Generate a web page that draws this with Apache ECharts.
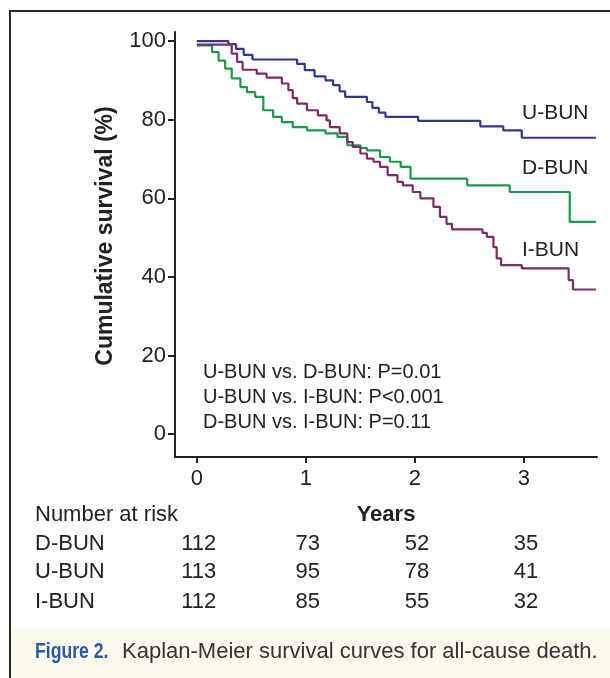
<!DOCTYPE html>
<html>
<head>
<meta charset="utf-8">
<script src="https://cdn.jsdelivr.net/npm/echarts@6/dist/echarts.min.js"></script>
<style>
html,body{margin:0;padding:0;background:#ffffff;}
#main{width:610px;height:678px;}
</style>
</head>
<body>
<div id="main"></div>
<script>
// ---- data ----
const xTicks = [0, 1, 2, 3];
const yTicks = [0, 20, 40, 60, 80, 100];
const groupNames = ['U-BUN', 'D-BUN', 'I-BUN'];
const uBun = [[0,100],[0.29,99.2],[0.36,98],[0.43,96.5],[0.51,95.3],[0.92,94.2],[0.99,92.6],[1.08,91],[1.18,90],[1.25,88.8],[1.31,87.2],[1.36,85.8],[1.56,84.5],[1.61,83],[1.67,81.8],[1.73,80.7],[2.03,79.7],[2.60,78.3],[2.81,77.3],[2.98,75.4],[3.66,75.4]];
const dBun = [[0,98.9],[0.14,97.2],[0.2,95],[0.26,93],[0.32,90.5],[0.4,88.3],[0.46,87],[0.535,85.8],[0.61,82.4],[0.7,80.7],[0.78,79.4],[0.88,78.1],[1.01,77.3],[1.18,76.5],[1.29,75.6],[1.38,73.5],[1.5,72.8],[1.56,72.2],[1.68,70.5],[1.77,69.3],[1.87,68],[1.96,65],[2.48,63.3],[2.87,61.6],[3.42,54],[3.66,54]];
const iBun = [[0,99.1],[0.32,96.8],[0.37,94.7],[0.42,92.7],[0.55,91.7],[0.64,90.7],[0.78,89.2],[0.84,87.5],[0.88,85.5],[0.92,84.1],[1.01,82.4],[1.11,81.1],[1.19,79.8],[1.22,78.1],[1.31,76.5],[1.38,74.3],[1.43,73.1],[1.5,71.4],[1.56,70.1],[1.62,69.3],[1.68,68],[1.75,65.9],[1.84,64.2],[1.89,63.3],[1.98,61.6],[2.05,60],[2.17,57.8],[2.23,55.3],[2.29,53.5],[2.34,52.1],[2.62,51.2],[2.66,50.2],[2.72,47.6],[2.75,44.7],[2.79,43],[2.98,42.2],[3.41,39.2],[3.45,36.8],[3.66,36.8]];
const pValueLines = ['U-BUN vs. D-BUN: P=0.01', 'U-BUN vs. I-BUN: P<0.001', 'D-BUN vs. I-BUN: P=0.11'];
const riskRowNames = ['D-BUN', 'U-BUN', 'I-BUN'];
const riskD = [112, 73, 52, 35];
const riskU = [113, 95, 78, 41];
const riskI = [112, 85, 55, 32];
const captionLabel = 'Figure 2.';
const captionText = 'Kaplan-Meier survival curves for all-cause death.';

// ---- chart ----
const FONT = 'Liberation Sans, Arial, Helvetica, sans-serif';
const TXT = '#222222';
const colors = { 'U-BUN': '#2f3896', 'D-BUN': '#1c9a48', 'I-BUN': '#7e2a64' };
const chart = echarts.init(document.getElementById('main'), null, { renderer: 'canvas' });

function lineSeries(name, data) {
  return {
    name: name, type: 'line', step: 'end', data: data,
    showSymbol: false, symbol: 'none', animation: false,
    lineStyle: { color: colors[name], width: 2.2 },
    itemStyle: { color: colors[name] }
  };
}

chart.setOption({
  backgroundColor: '#ffffff',
  animation: false,
  grid: { left: 175, right: 13, top: 32, bottom: 221, containLabel: false },
  xAxis: {
    type: 'value', min: -0.2, max: 3.67,
    name: 'Years', nameLocation: 'middle', nameGap: 47,
    nameTextStyle: { fontFamily: FONT, fontSize: 22, fontWeight: 'bold', color: TXT },
    axisLine: { show: true, onZero: false, lineStyle: { color: '#222', width: 2 } },
    axisTick: { show: true, length: 6, customValues: xTicks, lineStyle: { color: '#222', width: 2 } },
    axisLabel: { customValues: xTicks, fontFamily: FONT, fontSize: 22, color: TXT, margin: 11 },
    splitLine: { show: false }
  },
  yAxis: {
    type: 'value', min: -5.8, max: 102.3,
    axisLine: { show: true, onZero: false, lineStyle: { color: '#222', width: 2 } },
    axisTick: { show: true, length: 7, customValues: yTicks, lineStyle: { color: '#222', width: 2 } },
    axisLabel: { customValues: yTicks, fontFamily: FONT, fontSize: 22, color: TXT, margin: 9 },
    splitLine: { show: false }
  },
  series: [lineSeries('U-BUN', uBun), lineSeries('D-BUN', dBun), lineSeries('I-BUN', iBun)]
});

function px(x, y) { return chart.convertToPixel({ gridIndex: 0 }, [x, y]); }
const gfx = [];
// frame and caption band
gfx.push({ type: 'rect', shape: { x: 9, y: 628, width: 610, height: 60 }, style: { fill: '#fbfaec' }, silent: true, z: -10 });
gfx.push({ type: 'polyline', shape: { points: [[10, 690], [10, 11], [620, 11]] }, style: { stroke: '#2a2a2a', lineWidth: 2, fill: null }, silent: true });
// y axis title
gfx.push({ type: 'text', x: 106, y: 236, rotation: Math.PI / 2,
  style: { text: 'Cumulative survival (%)', font: 'bold 23px ' + FONT, fill: TXT, align: 'center', verticalAlign: 'middle' } });
// group labels near curve ends
const labelYs = { 'U-BUN': 113, 'D-BUN': 168, 'I-BUN': 250 };
groupNames.forEach(function (g) {
  gfx.push({ type: 'text', x: 522, y: labelYs[g],
    style: { text: g, font: '21px ' + FONT, fill: TXT, align: 'left', verticalAlign: 'middle' } });
});
// p-values
pValueLines.forEach(function (t, i) {
  gfx.push({ type: 'text', x: 203, y: 372 + i * 25,
    style: { text: t, font: '20px ' + FONT, fill: TXT, align: 'left', verticalAlign: 'middle' } });
});
// number at risk table
gfx.push({ type: 'text', x: 35, y: 515, style: { text: 'Number at risk', font: '22px ' + FONT, fill: TXT, align: 'left', verticalAlign: 'middle' } });
const riskRows = [riskD, riskU, riskI];
const rowYs = [544, 572, 602];
riskRows.forEach(function (row, r) {
  gfx.push({ type: 'text', x: 35, y: rowYs[r], style: { text: riskRowNames[r], font: '22px ' + FONT, fill: TXT, align: 'left', verticalAlign: 'middle' } });
  row.forEach(function (v, c) {
    const p = px(xTicks[c], 0);
    gfx.push({ type: 'text', x: p[0] + 2, y: rowYs[r], style: { text: String(v), font: '22px ' + FONT, fill: TXT, align: 'center', verticalAlign: 'middle' } });
  });
});
// caption
gfx.push({ type: 'text', x: 35, y: 652, scaleX: 0.8, style: { text: captionLabel, font: 'bold 22px ' + FONT, fill: '#2a5aa6', align: 'left', verticalAlign: 'middle' } });
gfx.push({ type: 'text', x: 122, y: 652, style: { text: captionText, font: '22px ' + FONT, fill: '#333333', align: 'left', verticalAlign: 'middle' } });

chart.setOption({ graphic: { elements: gfx } });
</script>
</body>
</html>
